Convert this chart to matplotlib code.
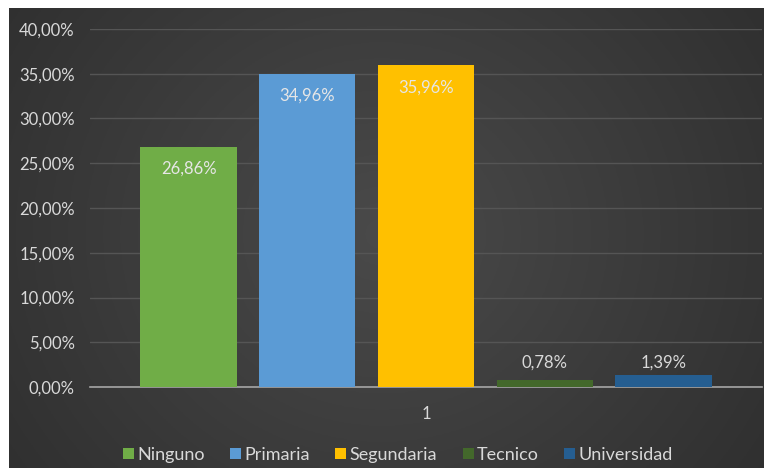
import numpy as np
import matplotlib
matplotlib.use('Agg')
import matplotlib.pyplot as plt
from matplotlib.ticker import FuncFormatter
from matplotlib.patches import Rectangle

categories = ['Ninguno', 'Primaria', 'Segundaria', 'Tecnico', 'Universidad']
values = [26.86, 34.96, 35.96, 0.78, 1.39]
colors = ['#70ad47', '#5b9bd5', '#ffc000', '#43682b', '#255e91']
group_label = '1'

plt.rcParams['font.family'] = ['Lato', 'DejaVu Sans']

fig = plt.figure(figsize=(7.64, 4.68), dpi=100)

# dark gradient background
bg = fig.add_axes([0, 0, 1, 1], zorder=-10)
xx = np.linspace(-1, 1, 300)
yy = np.linspace(-1, 1, 200)
X, Y = np.meshgrid(xx, yy)
shade = 0.29 - 0.09 * np.clip(np.sqrt(X**2 * 0.9 + Y**2 * 0.4), 0, 1.4)
bg.imshow(np.dstack([shade] * 3), aspect='auto', extent=[0, 1, 0, 1])
bg.set_xlim(0, 1)
bg.set_ylim(0, 1)
bg.axis('off')
fig.patches.append(Rectangle((0, 1 - 8 / 468), 1, 8 / 468, transform=fig.transFigure,
                             facecolor='white', edgecolor='none', zorder=5))
fig.patches.append(Rectangle((0, 0), 9 / 764, 1, transform=fig.transFigure,
                             facecolor='white', edgecolor='none', zorder=5))

ax = fig.add_axes([90 / 764, 1 - 387 / 468, 672 / 764, 358 / 468])
ax.set_facecolor('none')

x = np.arange(len(categories))
bars = ax.bar(x, values, width=0.81, color=colors, label=categories, zorder=3)

for xi, v in zip(x, values):
    txt = '{:.2f}%'.format(v).replace('.', ',')
    if v > 10:
        ax.annotate(txt, (xi, v), xytext=(0, -22), textcoords='offset pixels',
                    ha='center', va='center', color='#e6e6e6', fontsize=12, zorder=4)
    else:
        ax.annotate(txt, (xi, 1.39), xytext=(0, 12), textcoords='offset pixels',
                    ha='center', va='center', color='#d9d9d9', fontsize=12, zorder=4)

ax.set_ylim(0, 40)
ax.set_xlim(-0.83, 4.83)
ax.set_yticks(np.arange(0, 41, 5))
ax.yaxis.set_major_formatter(FuncFormatter(lambda v, p: '{:.2f}%'.format(v).replace('.', ',')))
ax.set_xticks([2])
ax.set_xticklabels([group_label])
ax.tick_params(axis='both', length=0, colors='#d9d9d9', labelsize=12)
ax.tick_params(axis='x', pad=14)
ax.tick_params(axis='y', pad=11)
for sp in ['top', 'right', 'left']:
    ax.spines[sp].set_visible(False)
ax.spines['bottom'].set_color('#a6a6a6')
ax.spines['bottom'].set_linewidth(1.2)
ax.grid(axis='y', color='#555555', linewidth=1, zorder=0)
ax.set_axisbelow(True)

fig.legend(loc='center', bbox_to_anchor=(398 / 764, 1 - 455 / 468), ncol=5, frameon=False,
           handlelength=0.6, handleheight=0.6, handletextpad=0.2, columnspacing=1.4,
           fontsize=13, labelcolor='#d9d9d9')

fig.savefig('out.png', dpi=100, facecolor=fig.get_facecolor())
